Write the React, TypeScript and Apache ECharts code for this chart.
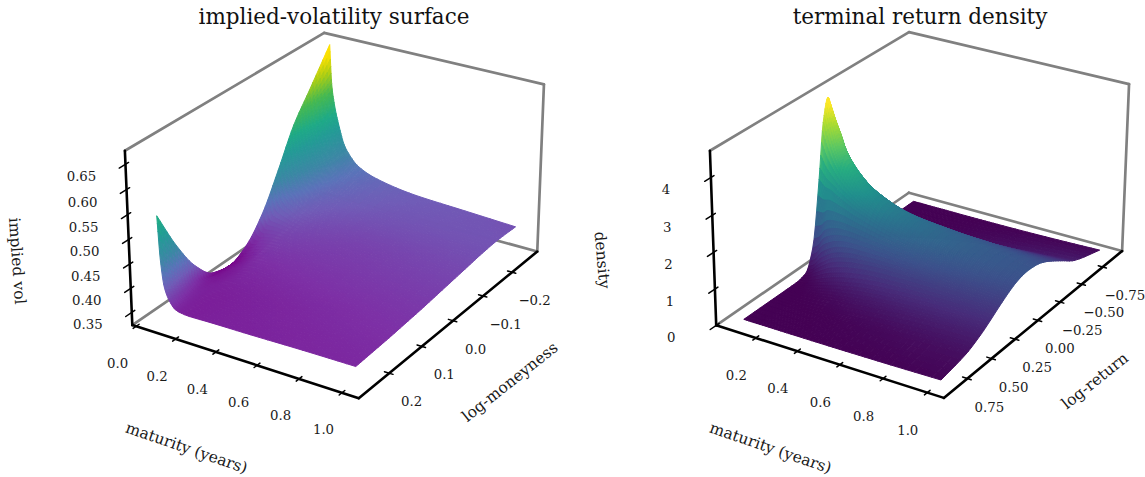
import React, { useEffect, useRef } from "react";
import * as echarts from "echarts";

const W = 1145;
const H = 477;
const SERIF = '"DejaVu Serif", serif';

// ---------- data ----------
const volMaturities = [0.05, 0.06, 0.075, 0.1, 0.125, 0.15, 0.2, 0.3, 0.5, 0.75, 1.0];
const volMoneyness = [-0.265, -0.2, -0.15, -0.1, -0.05, 0, 0.05, 0.1, 0.15, 0.2, 0.25];
const volValues = [
  [0.668, 0.598, 0.545, 0.47, 0.4, 0.355, 0.336, 0.345, 0.385, 0.452, 0.537],
  [0.585, 0.552, 0.505, 0.445, 0.388, 0.35, 0.34, 0.342, 0.36, 0.4, 0.45],
  [0.54, 0.512, 0.47, 0.42, 0.376, 0.352, 0.342, 0.344, 0.354, 0.372, 0.395],
  [0.495, 0.465, 0.435, 0.405, 0.376, 0.357, 0.346, 0.346, 0.35, 0.357, 0.368],
  [0.46, 0.44, 0.418, 0.397, 0.376, 0.36, 0.35, 0.348, 0.35, 0.352, 0.355],
  [0.442, 0.425, 0.405, 0.39, 0.375, 0.363, 0.354, 0.35, 0.35, 0.35, 0.351],
  [0.42, 0.406, 0.393, 0.383, 0.373, 0.365, 0.357, 0.353, 0.35, 0.349, 0.349],
  [0.403, 0.394, 0.385, 0.377, 0.37, 0.364, 0.358, 0.354, 0.351, 0.35, 0.35],
  [0.39, 0.385, 0.38, 0.373, 0.368, 0.364, 0.36, 0.356, 0.353, 0.352, 0.351],
  [0.385, 0.383, 0.379, 0.374, 0.37, 0.366, 0.362, 0.358, 0.356, 0.354, 0.353],
  [0.38, 0.382, 0.38, 0.376, 0.372, 0.368, 0.364, 0.361, 0.358, 0.356, 0.354],
];

const densityMaturities = [0.07, 0.1, 0.125, 0.15, 0.2, 0.25, 0.3, 0.4, 0.5, 0.65, 0.8, 1.0];
const densityReturns = [-0.9, -0.6, -0.45, -0.35, -0.25, -0.175, -0.1, -0.05, 0, 0.05, 0.1, 0.175, 0.25, 0.35, 0.45, 0.6, 0.85];
const densityValues = [
  [0, 0, 0, 0.002, 0.08, 0.6, 2.3, 3.75, 4.55, 3.95, 2.45, 0.65, 0.08, 0.002, 0, 0, 0],
  [0, 0, 0, 0.012, 0.21, 0.98, 2.56, 3.59, 3.94, 3.39, 2.28, 0.79, 0.16, 0.008, 0, 0, 0],
  [0, 0, 0.003, 0.045, 0.39, 1.21, 2.5, 3.2, 3.41, 3.03, 2.24, 1.01, 0.3, 0.032, 0.002, 0, 0],
  [0, 0, 0.01, 0.1, 0.55, 1.35, 2.4, 2.92, 3.06, 2.77, 2.16, 1.12, 0.41, 0.07, 0.006, 0, 0],
  [0, 0.001, 0.04, 0.22, 0.76, 1.48, 2.21, 2.54, 2.61, 2.41, 2.0, 1.23, 0.6, 0.155, 0.026, 0.001, 0],
  [0, 0.007, 0.096, 0.35, 0.91, 1.5, 2.05, 2.26, 2.3, 2.15, 1.85, 1.26, 0.7, 0.24, 0.06, 0.004, 0],
  [0, 0.018, 0.15, 0.45, 0.99, 1.49, 1.92, 2.08, 2.1, 1.98, 1.74, 1.25, 0.77, 0.31, 0.097, 0.01, 0],
  [0.001, 0.06, 0.29, 0.63, 1.09, 1.45, 1.7, 1.79, 1.79, 1.7, 1.54, 1.2, 0.83, 0.43, 0.18, 0.034, 0.001],
  [0.005, 0.12, 0.41, 0.75, 1.13, 1.4, 1.56, 1.61, 1.6, 1.53, 1.4, 1.14, 0.85, 0.49, 0.245, 0.062, 0.003],
  [0.016, 0.205, 0.53, 0.82, 1.12, 1.3, 1.39, 1.41, 1.4, 1.35, 1.25, 1.06, 0.84, 0.55, 0.32, 0.107, 0.01],
  [0.035, 0.28, 0.6, 0.84, 1.07, 1.2, 1.27, 1.27, 1.26, 1.21, 1.14, 0.99, 0.81, 0.57, 0.36, 0.15, 0.02],
  [0.07, 0.36, 0.64, 0.83, 1.0, 1.09, 1.13, 1.14, 1.12, 1.09, 1.03, 0.91, 0.77, 0.57, 0.39, 0.19, 0.039],
];

const volMaturityTicks = [0, 0.2, 0.4, 0.6, 0.8, 1.0];
const volMaturityTickLabels = ["0.0", "0.2", "0.4", "0.6", "0.8", "1.0"];
const volMoneynessTicks = [-0.2, -0.1, 0, 0.1, 0.2];
const volMoneynessTickLabels = ["\u22120.2", "\u22120.1", "0.0", "0.1", "0.2"];
const volZTicks = [0.35, 0.4, 0.45, 0.5, 0.55, 0.6, 0.65];
const volZTickLabels = ["0.35", "0.40", "0.45", "0.50", "0.55", "0.60", "0.65"];

const densityMaturityTicks = [0.2, 0.4, 0.6, 0.8, 1.0];
const densityMaturityTickLabels = ["0.2", "0.4", "0.6", "0.8", "1.0"];
const densityReturnTicks = [-0.75, -0.5, -0.25, 0, 0.25, 0.5, 0.75];
const densityReturnTickLabels = ["\u22120.75", "\u22120.50", "\u22120.25", "0.00", "0.25", "0.50", "0.75"];
const densityZTicks = [0, 1, 2, 3, 4];
const densityZTickLabels = ["0", "1", "2", "3", "4"];

// colour ramps
const volRamp: [number, number[]][] = [
  [0, [120, 0, 135]],
  [0.03, [122, 25, 150]],
  [0.07, [125, 48, 166]],
  [0.165, [112, 92, 183]],
  [0.25, [90, 115, 185]],
  [0.35, [60, 135, 165]],
  [0.5, [35, 155, 150]],
  [0.6, [30, 170, 135]],
  [0.75, [70, 185, 80]],
  [0.88, [170, 205, 20]],
  [1, [253, 225, 0]],
];
const viridisRamp: [number, number[]][] = [
  [0, [68, 1, 84]],
  [0.13, [71, 44, 122]],
  [0.25, [59, 81, 139]],
  [0.38, [44, 113, 142]],
  [0.5, [33, 144, 141]],
  [0.63, [39, 173, 129]],
  [0.75, [92, 200, 99]],
  [0.88, [170, 220, 50]],
  [1, [253, 231, 37]],
];

// ---------- projection ----------
type Pt = [number, number];
type Corners = Pt[]; // order matches unitCorners
const unitCorners = [
  [0, 0, 0],
  [1, 0, 0],
  [1, 1, 0],
  [0, 1, 0],
  [0, 0, 1],
  [0, 1, 1],
  [1, 1, 1],
];

function solve(A: number[][], b: number[]) {
  const n = b.length;
  const M = A.map((r, i) => [...r, b[i]]);
  for (let c = 0; c < n; c++) {
    let p = c;
    for (let r = c + 1; r < n; r++) if (Math.abs(M[r][c]) > Math.abs(M[p][c])) p = r;
    [M[c], M[p]] = [M[p], M[c]];
    for (let r = 0; r < n; r++) {
      if (r === c) continue;
      const f = M[r][c] / M[c][c];
      for (let k = c; k <= n; k++) M[r][k] -= f * M[c][k];
    }
  }
  return M.map((r, i) => r[n] / r[i]);
}

function cameraFrom(corners: Corners) {
  const rows: number[][] = [];
  const rhs: number[] = [];
  unitCorners.forEach(([a, b, c], i) => {
    const [x, y] = corners[i];
    rows.push([a, b, c, 1, 0, 0, 0, 0, -x * a, -x * b, -x * c]);
    rhs.push(x);
    rows.push([0, 0, 0, 0, a, b, c, 1, -y * a, -y * b, -y * c]);
    rhs.push(y);
  });
  const N = Array.from({ length: 11 }, (_, i) =>
    Array.from({ length: 11 }, (_, j) => rows.reduce((s, r) => s + r[i] * r[j], 0))
  );
  const v = Array.from({ length: 11 }, (_, i) => rows.reduce((s, r, k) => s + r[i] * rhs[k], 0));
  const p = solve(N, v);
  return (a: number, b: number, c: number): Pt => {
    const d = p[8] * a + p[9] * b + p[10] * c + 1;
    return [
      (p[0] * a + p[1] * b + p[2] * c + p[3]) / d,
      (p[4] * a + p[5] * b + p[6] * c + p[7]) / d,
    ];
  };
}

// ---------- smooth drawing of a table ----------
function pchip(xs: number[], ys: number[], x: number) {
  const n = xs.length;
  let i = 0;
  while (i < n - 2 && x > xs[i + 1]) i++;
  const h = xs.map((v, j) => (j < n - 1 ? xs[j + 1] - v : 0));
  const d = h.map((v, j) => (j < n - 1 ? (ys[j + 1] - ys[j]) / v : 0));
  const slope = (j: number) => {
    if (j === 0) return d[0];
    if (j === n - 1) return d[n - 2];
    if (d[j - 1] * d[j] <= 0) return 0;
    const w1 = 2 * h[j] + h[j - 1];
    const w2 = h[j] + 2 * h[j - 1];
    return (w1 + w2) / (w1 / d[j - 1] + w2 / d[j]);
  };
  const t = (x - xs[i]) / h[i];
  const t2 = t * t;
  const t3 = t2 * t;
  return (
    (2 * t3 - 3 * t2 + 1) * ys[i] +
    (t3 - 2 * t2 + t) * h[i] * slope(i) +
    (-2 * t3 + 3 * t2) * ys[i + 1] +
    (t3 - t2) * h[i] * slope(i + 1)
  );
}

function refine(xs: number[], steps: number) {
  const out: number[] = [];
  for (let i = 0; i < xs.length - 1; i++)
    for (let s = 0; s < steps; s++) out.push(xs[i] + ((xs[i + 1] - xs[i]) * s) / steps);
  out.push(xs[xs.length - 1]);
  return out;
}

function rampColor(ramp: [number, number[]][], f: number) {
  const x = Math.max(0, Math.min(1, f));
  let i = 0;
  while (i < ramp.length - 2 && x > ramp[i + 1][0]) i++;
  const t = (x - ramp[i][0]) / (ramp[i + 1][0] - ramp[i][0]);
  const c = ramp[i][1].map((v, k) => Math.round(v + (ramp[i + 1][1][k] - v) * t));
  return `rgb(${c[0]},${c[1]},${c[2]})`;
}

interface Panel {
  corners: Corners;
  tLim: [number, number];
  kLim: [number, number];
  zLim: [number, number];
  ts: number[];
  ks: number[];
  values: number[][];
  ramp: [number, number[]][];
  cMin: number;
  cMax: number;
  steps: number;
  tTicks: number[];
  tLabels: string[];
  kTicks: number[];
  kLabels: string[];
  zTicks: number[];
  zLabels: string[];
  tOff: Pt;
  kOff: Pt;
  zOff: Pt;
  names: { text: string; x: number; y: number; rot: number }[];
}

const panels: Panel[] = [
  {
    corners: [[132, 325], [359, 398], [537, 252], [325, 193], [125, 151], [324, 33], [544, 84]],
    tLim: [-0.0195, 1.077],
    kLim: [0.29, -0.29],
    zLim: [0.3235, 0.6765],
    ts: volMaturities,
    ks: volMoneyness,
    values: volValues,
    ramp: volRamp,
    cMin: 0.337,
    cMax: 0.645,
    steps: 6,
    tTicks: volMaturityTicks,
    tLabels: volMaturityTickLabels,
    kTicks: volMoneynessTicks,
    kLabels: volMoneynessTickLabels,
    zTicks: volZTicks,
    zLabels: volZTickLabels,
    tOff: [-18.5, 37],
    kOff: [22.5, 28.5],
    zOff: [-44, 12.5],
    names: [
      { text: "maturity (years)", x: 186.5, y: 448, rot: -19 },
      { text: "log-moneyness", x: 510, y: 382, rot: 38.5 },
      { text: "implied vol", x: 17, y: 261, rot: -86 },
    ],
  },
  {
    corners: [[716, 325], [944, 398], [1122, 251], [909, 193], [710, 151], [909, 32], [1129, 84]],
    tLim: [0.006, 1.074],
    kLim: [0.986, -0.986],
    zLim: [0, 4.7],
    ts: densityMaturities,
    ks: densityReturns,
    values: densityValues,
    ramp: viridisRamp,
    cMin: 0,
    cMax: 4.35,
    steps: 5,
    tTicks: densityMaturityTicks,
    tLabels: densityMaturityTickLabels,
    kTicks: densityReturnTicks,
    kLabels: densityReturnTickLabels,
    zTicks: densityZTicks,
    zLabels: densityZTickLabels,
    tOff: [-19.5, 37.5],
    kOff: [22, 28.5],
    zOff: [-45, 12],
    names: [
      { text: "maturity (years)", x: 770.5, y: 448, rot: -19 },
      { text: "log-return", x: 1095, y: 381, rot: 38.5 },
      { text: "density", x: 602, y: 260, rot: -85 },
    ],
  },
];

const GREY = "#808080";
const BLACK = "#000";

function frameChildren(p: Panel, coord: (q: Pt) => number[]) {
  const cam = cameraFrom(p.corners);
  const seg = (a: number[], b: number[], stroke: string, lineWidth: number) => {
    const A = coord(cam(a[0], a[1], a[2]));
    const B = coord(cam(b[0], b[1], b[2]));
    return {
      type: "line",
      shape: { x1: A[0], y1: A[1], x2: B[0], y2: B[1] },
      style: { stroke, lineWidth, lineCap: "round" },
    };
  };
  const out: any[] = [
    seg([0, 0, 1], [0, 1, 1], GREY, 2.7),
    seg([0, 1, 1], [1, 1, 1], GREY, 2.7),
    seg([1, 1, 1], [1, 1, 0], GREY, 2.7),
    seg([1, 1, 0], [0, 1, 0], GREY, 2.7),
    seg([0, 1, 0], [0, 0, 0], GREY, 2.7),
    seg([0, 0, 0], [0, 0, 1], BLACK, 2.6),
    seg([0, 0, 0], [1, 0, 0], BLACK, 2.6),
    seg([1, 0, 0], [1, 1, 0], BLACK, 2.6),
  ];
  const u = (t: number) => (t - p.tLim[0]) / (p.tLim[1] - p.tLim[0]);
  const v = (k: number) => (k - p.kLim[0]) / (p.kLim[1] - p.kLim[0]);
  const w = (z: number) => (z - p.zLim[0]) / (p.zLim[1] - p.zLim[0]);
  p.tTicks.forEach((t) => out.push(seg([u(t), -0.014, 0], [u(t), 0.014, 0], BLACK, 1.5)));
  p.kTicks.forEach((k) => out.push(seg([1 - 0.02, v(k), 0], [1 + 0.016, v(k), 0], BLACK, 1.5)));
  p.zTicks.forEach((z) => out.push(seg([0, -0.028, w(z)], [0, 0.014, w(z)], BLACK, 1.5)));
  return out;
}

function labelChildren(p: Panel, coord: (q: Pt) => number[]) {
  const cam = cameraFrom(p.corners);
  const u = (t: number) => (t - p.tLim[0]) / (p.tLim[1] - p.tLim[0]);
  const v = (k: number) => (k - p.kLim[0]) / (p.kLim[1] - p.kLim[0]);
  const w = (z: number) => (z - p.zLim[0]) / (p.zLim[1] - p.zLim[0]);
  const text = (q: Pt, off: Pt, s: string, size: number, rot = 0) => {
    const c = coord([q[0] + off[0], q[1] + off[1]]);
    return {
      type: "text",
      x: c[0],
      y: c[1],
      rotation: (rot * Math.PI) / 180,
      style: {
        text: s,
        fontFamily: SERIF,
        fontSize: size,
        fill: "#1a1a1a",
        align: "center",
        verticalAlign: "middle",
      },
    };
  };
  const out: any[] = [];
  p.tTicks.forEach((t, i) => out.push(text(cam(u(t), 0, 0), p.tOff, p.tLabels[i], 13.3)));
  p.kTicks.forEach((k, i) => out.push(text(cam(1, v(k), 0), p.kOff, p.kLabels[i], 13.3)));
  p.zTicks.forEach((z, i) => out.push(text(cam(0, 0, w(z)), p.zOff, p.zLabels[i], 13.3)));
  p.names.forEach((n) => out.push(text([n.x, n.y], [0, 0], n.text, 15.6, n.rot)));
  return out;
}

function surfaceCells(p: Panel) {
  const cam = cameraFrom(p.corners);
  const tf = refine(p.ts, p.steps);
  const kf = refine(p.ks, p.steps);
  const rows = p.values.map((r) => kf.map((k) => pchip(p.ks, r, k)));
  const field = tf.map((t) =>
    kf.map((_, j) =>
      pchip(
        p.ts,
        rows.map((r) => r[j]),
        t
      )
    )
  );
  const pts = tf.map((t, i) =>
    kf.map((k, j) =>
      cam(
        (t - p.tLim[0]) / (p.tLim[1] - p.tLim[0]),
        (k - p.kLim[0]) / (p.kLim[1] - p.kLim[0]),
        (field[i][j] - p.zLim[0]) / (p.zLim[1] - p.zLim[0])
      )
    )
  );
  const cells: any[] = [];
  // painter's order: far k first, low maturity first
  for (let j = 0; j < kf.length - 1; j++) {
    for (let i = 0; i < tf.length - 1; i++) {
      const z = (field[i][j] + field[i + 1][j] + field[i][j + 1] + field[i + 1][j + 1]) / 4;
      cells.push({
        poly: [pts[i][j], pts[i + 1][j], pts[i + 1][j + 1], pts[i][j + 1]],
        color: rampColor(p.ramp, (z - p.cMin) / (p.cMax - p.cMin)),
      });
    }
  }
  return cells;
}

export default function App() {
  const ref = useRef<HTMLDivElement>(null);
  useEffect(() => {
    document.body.style.margin = "0";
    const chart = echarts.init(ref.current!, null, { renderer: "svg" });
    const series: any[] = [];
    panels.forEach((p) => {
      series.push({
        type: "custom",
        silent: true,
        clip: false,
        z: 1,
        data: [[0]],
        renderItem: (_: any, api: any) => ({
          type: "group",
          children: frameChildren(p, (q) => api.coord(q)),
        }),
      });
      const cells = surfaceCells(p);
      series.push({
        type: "custom",
        silent: true,
        clip: false,
        z: 2,
        progressive: 0,
        data: [[0]],
        renderItem: (_: any, api: any) => ({
          type: "group",
          children: cells.map((c) => ({
            type: "polygon",
            shape: { points: c.poly.map((q: Pt) => api.coord(q)) },
            style: { fill: c.color, stroke: c.color, lineWidth: 1 },
          })),
        }),
      });
      series.push({
        type: "custom",
        silent: true,
        clip: false,
        z: 3,
        data: [[0]],
        renderItem: (_: any, api: any) => ({
          type: "group",
          children: labelChildren(p, (q) => api.coord(q)),
        }),
      });
    });
    chart.setOption({
      animation: false,
      backgroundColor: "#fff",
      title: [
        { text: "implied-volatility surface", left: 329, top: 0, textAlign: "center", textStyle: { fontFamily: SERIF, fontWeight: "normal", fontSize: 21.5, color: "#111" } },
        { text: "terminal return density", left: 915, top: 0, textAlign: "center", textStyle: { fontFamily: SERIF, fontWeight: "normal", fontSize: 21.5, color: "#111" } },
      ],
      grid: { left: 0, top: 0, width: W, height: H },
      xAxis: { type: "value", min: 0, max: W, show: false },
      yAxis: { type: "value", min: 0, max: H, inverse: true, show: false },
      series,
    });
    return () => chart.dispose();
  }, []);
  return <div ref={ref} style={{ width: W, height: H }} />;
}
